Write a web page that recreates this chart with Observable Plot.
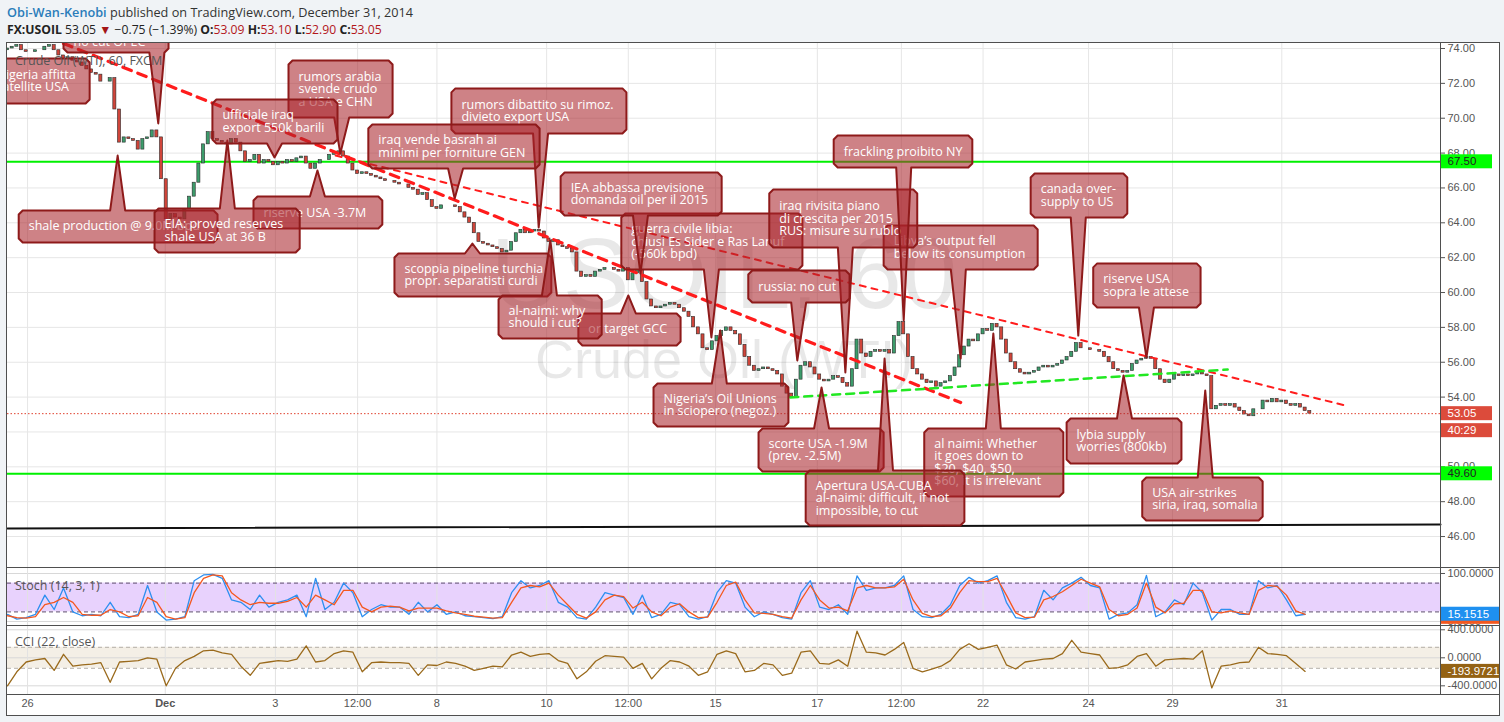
<!DOCTYPE html>
<html><head><meta charset="utf-8">
<script src="https://cdn.jsdelivr.net/npm/d3@7"></script>
<script src="https://cdn.jsdelivr.net/npm/@observablehq/plot@0.6"></script>
<style>
body{margin:0;background:#f0f3f6;width:1504px;height:722px;overflow:hidden;position:relative;font-family:"Open Sans",sans-serif}
.abs{position:absolute}
.pane{position:absolute;overflow:hidden}
.line{position:absolute;background:#4f4f4f}
.lbl{position:absolute;color:#555;font-size:12.5px;font-family:"Open Sans",sans-serif;white-space:nowrap;z-index:5}
</style></head><body>
<div class="abs" style="left:7px;top:3px;font-size:12.7px;color:#333;white-space:nowrap"><span style="color:#2a7cba;font-weight:600">Obi-Wan-Kenobi</span> published on TradingView.com, December 31, 2014</div>
<div class="abs" style="left:7px;top:21px;font-size:12.2px;color:#222;white-space:nowrap"><b>FX:USOIL</b> 53.05 <span style="color:#a31515">▼</span> −0.75 (−1.39%) <b>O:</b><span style="color:#b3161b">53.09</span> <b>H:</b><span style="color:#b3161b">53.10</span> <b>L:</b><span style="color:#b3161b">52.90</span> <b>C:</b><span style="color:#b3161b">53.05</span></div>
<div id="main" class="pane" style="left:6px;top:42px;width:1494px;height:525px"></div>
<div id="stoch" class="pane" style="left:6px;top:567px;width:1494px;height:58px"></div>
<div id="cci" class="pane" style="left:6px;top:625px;width:1494px;height:91px"></div>
<div class="lbl" style="left:15px;top:52px">Crude Oil (WTI), 60, FXCM</div>
<div class="lbl" style="left:15px;top:577px">Stoch (14, 3, 1)</div>
<div class="lbl" style="left:15px;top:633px">CCI (22, close)</div>
<div class="line" style="left:6px;top:42px;width:1494px;height:1px"></div>
<div class="line" style="left:6px;top:567px;width:1494px;height:1px"></div>
<div class="line" style="left:6px;top:625px;width:1494px;height:1px"></div>
<div class="line" style="left:6px;top:694px;width:1494px;height:1px"></div>
<div class="line" style="left:6px;top:715px;width:1494px;height:1px"></div>
<div class="line" style="left:6px;top:42px;width:1px;height:674px"></div>
<div class="line" style="left:1499px;top:42px;width:1px;height:674px"></div>
<div class="line" style="left:1440px;top:42px;width:1px;height:652px"></div>
<script>
// ---------- data ----------
const firstOpen = 73.9;
const closes = [
 74.0, 74.1, 74.2, 73.9, 73.8, 73.8, 73.9, 73.9, 74.1, 74.2,
 73.9, 73.6, 73.4, 73.5, 73.3, 73.2, 73.0, 72.8, 72.6, 72.5,
 72.1, 72.1, 72.3, 70.5, 68.6, 68.9, 68.8, 68.7, 68.2, 68.8,
 68.9, 69.3, 68.9, 66.5, 64.2, 64.5, 64.3, 64.2, 64.8, 65.5,
 66.3, 67.4, 68.5, 69.2, 68.8, 68.7, 68.6, 68.5, 68.8, 68.6,
 68.1, 67.5, 67.6, 67.9, 67.4, 67.6, 67.5, 67.3, 67.5, 67.4,
 67.6, 67.5, 67.7, 67.8, 67.4, 67.1, 67.4, 67.6, 67.6, 67.9,
 68.0, 68.1, 67.8, 67.4, 67.0, 66.8, 66.9, 66.8, 66.7, 66.6,
 66.5, 66.4, 66.4, 66.3, 66.2, 66.2, 66.0, 65.9, 65.6, 65.7,
 65.3, 64.9, 64.8, 65.0, 65.0, 65.0, 64.9, 64.6, 64.3, 64.0,
 63.4, 62.9, 62.8, 62.7, 62.6, 62.5, 62.3, 62.4, 62.9, 63.4,
 63.6, 63.4, 63.5, 63.6, 63.5, 63.1, 62.9, 63.0, 62.7, 62.6,
 62.5, 62.3, 61.2, 60.9, 61.0, 60.9, 61.2, 61.3, 61.4, 61.4,
 61.3, 61.2, 61.4, 60.7, 61.1, 61.3, 60.6, 59.6, 59.2, 59.1,
 59.2, 59.3, 59.4, 59.3, 59.1, 58.9, 58.6, 58.0, 57.6, 56.8,
 56.7, 57.2, 57.5, 57.8, 58.0, 57.8, 57.6, 57.0, 56.3, 55.8,
 55.5, 55.6, 55.7, 55.6, 55.5, 55.3, 54.6, 54.2, 54.0, 55.0,
 55.8, 56.0, 55.7, 55.3, 55.0, 54.9, 55.0, 55.2, 55.1, 54.8,
 54.6, 55.6, 57.3, 56.5, 56.3, 56.6, 56.7, 56.6, 56.7, 56.5,
 57.5, 58.3, 57.6, 56.3, 55.6, 55.3, 55.0, 54.8, 54.9, 54.6,
 54.8, 54.9, 55.2, 55.7, 56.4, 56.9, 57.3, 57.2, 57.6, 57.9,
 57.8, 58.2, 58.0, 57.3, 56.5, 56.0, 55.6, 55.4, 55.3, 55.4,
 55.5, 55.7, 55.8, 55.7, 55.8, 55.9, 56.1, 56.3, 56.6, 57.1,
 56.8, 56.8, 56.7, 56.7, 56.6, 56.3, 56.0, 55.6, 55.5, 55.4,
 55.5, 55.9, 56.1, 56.2, 56.3, 56.2, 55.6, 55.0, 54.8, 55.0,
 55.3, 55.2, 55.3, 55.2, 55.3, 55.4, 55.3, 55.2, 53.3, 53.5,
 53.6, 53.5, 53.6, 53.4, 53.2, 53.0, 52.9, 53.3, 53.3, 53.8,
 53.7, 53.9, 53.7, 53.8, 53.6, 53.5, 53.6, 53.4, 53.2, 53.05];

const stochK = [
 15, 5, 8, 15, 55, 25, 70, 20, 12, 15,
 12, 40, 10, 8, 15, 75, 20, 3, 5, 10,
 85, 97, 98, 90, 45, 40, 25, 55, 30, 40,
 45, 55, 10, 90, 25, 40, 80, 60, 10, 25,
 35, 30, 30, 15, 40, 20, 35, 15, 20, 12,
 10, 8, 6, 10, 60, 85, 70, 75, 85, 40,
 30, 8, 5, 30, 60, 55, 50, 15, 55, 8,
 15, 40, 35, 10, 5, 10, 60, 85, 80, 30,
 10, 20, 15, 8, 5, 60, 85, 30, 25, 35,
 15, 95, 65, 70, 70, 75, 95, 25, 10, 8,
 15, 35, 75, 92, 80, 85, 95, 40, 8, 5,
 10, 65, 45, 70, 80, 92, 75, 70, 5, 15,
 18, 35, 96, 10, 20, 45, 35, 80, 60, 3,
 25, 25, 15, 15, 85, 70, 75, 45, 12, 15.15];
const stochD = [
 12, 8, 7, 10, 35, 40, 50, 40, 15, 13,
 13, 25, 20, 10, 12, 50, 40, 10, 5, 8,
 60, 90, 97, 95, 60, 45, 35, 40, 38, 38,
 42, 50, 30, 55, 45, 35, 65, 65, 30, 20,
 30, 32, 30, 22, 28, 28, 28, 22, 18, 15,
 11, 9, 7, 8, 40, 70, 75, 72, 80, 55,
 35, 15, 7, 20, 45, 55, 52, 28, 40, 20,
 12, 30, 37, 20, 8, 9, 40, 75, 82, 45,
 18, 17, 15, 10, 7, 45, 75, 45, 28, 30,
 22, 70, 75, 70, 70, 72, 88, 45, 17, 10,
 12, 28, 60, 85, 83, 83, 90, 55, 18, 8,
 9, 45, 52, 62, 75, 88, 80, 72, 25, 12,
 15, 28, 80, 30, 18, 37, 38, 65, 65, 20,
 18, 22, 18, 15, 65, 75, 73, 55, 22, 15];
const cci = [
 -400, -200, -60, -30, -10, -180, 50, -120, -100, -90,
 -70, -350, -60, -50, -40, 0, -20, -400, -150, -40,
 20, 100, 110, 70, 50, -120, -250, -80, -60, -40,
 -50, -20, 170, -60, -40, 60, 100, 80, -200, -70,
 -60, -70, -70, -80, -250, -100, -110, -60, -80, -120,
 -180, -150, -120, -130, 40, 80, 20, 50, 60, -40,
 -80, -300, -200, -50, 30, 20, 10, -150, -80, -300,
 -150, -40, -60, -120, -250, -200, 50, 100, 60, -200,
 -180, -80, -100, -250, -220, 80, 100, -80, -90, -30,
 -120, 380, 80, 70, 40, 120, 220, -150, -200, -160,
 -120, -40, 120, 200, 120, 150, 180, -100, -160, -60,
 -40, -20, -10, 60, 250, 80, 60, 40, -150, -140,
 -100, 20, 60, -120, -30, -20, -10, -20, 100, -430,
 -120, -100, -70, -60, 150, 60, 50, 30, -80, -193.9721];
const indicatorStep = 2; // indicator samples every 2 bars

const timeTicks = [4.3, 33.8, 57.4, 75, 92, 115.5, 133, 151.7, 173.5, 191.5, 209, 231.6, 249.6, 273];
const timeLabels = ["26", "Dec", "3", "12:00", "8", "10", "12:00", "15", "17", "12:00", "22", "24", "29", "31"];
const priceTicks = [46, 48, 50, 52, 54, 56, 58, 60, 62, 64, 66, 68, 70, 72, 74];
const stochTicks = [100, 0];
const stochBand = [20, 80];
const cciTicks = [400, 0, -400];
const cciBand = [-150, 150];

const levelLines = [67.5, 49.6];
const lastPrice = 53.05, countdown = "40:29";
const blackLine = [[0, 46.46], [307, 46.69]];
const redTrendA = [[12.0, 74.29], [204.2, 53.69]];
const redTrendB = [[70.3, 67.86], [286.6, 53.52]];
const greenTrend = [[167.7, 53.98], [261.4, 55.58]];
const watermark = ["USOIL, 60", "Crude Oil (WTI)"];

// [text, boxLeft, boxRight, boxTop, boxBottom, pointerBase, tipX, tipY]
const notes = [
 ["shale production @ 9.0M bpd", 2.4, 45.0, 64.71, 62.87, 23.6, 23.6, 67.86],
 ["riserve USA -3.7M", 52.7, 80.3, 65.51, 63.67, 66.4, 66.4, 67.0],
 ["EIA: proved reserves\nshale USA at 36 B", 31.5, 62.6, 64.82, 62.30, 47.1, 47.1, 68.72],
 ["rumors arabia\nsvende crudo\na USA e CHN", 60.2, 82.5, 73.31, 70.04, 71.6, 71.3, 67.98],
 ["ufficiale iraq\nexport 550k barili", 43.9, 70.7, 71.07, 68.55, 57.2, 57.2, 67.75],
 ["no cut OPEC", 12.0, 34.5, 75.03, 73.77, 32.0, 32.3, 69.70],
 ["Nigeria affitta\nsatellite USA", -4.5, 17.6, 73.43, 70.84, null, null, null],
 ["rumors dibattito su rimoz.\ndivieto export USA", 95.1, 132.6, 71.71, 69.12, 114.2, 113.8, 63.73],
 ["iraq vende basrah ai\nminimi per forniture GEN", 77.3, 114.0, 69.64, 67.12, 96.0, 95.8, 65.39],
 ["scoppia pipeline turchia\npropr. separatisti curdi", 82.9, 116.5, 62.24, 59.77, 99.6, 99.6, 62.81],
 ["or target GCC", 122.3, 144.2, 58.80, 56.96, 133.0, 133.0, 59.83],
 ["al-naimi: why\nshould i cut?", 105.2, 127.3, 59.83, 57.36, 116.1, 116.3, 62.98],
 ["guerra civile libia:\nchiusi Es Sider e Ras Lanuf\n(-560k bpd)", 131.5, 170.3, 64.53, 61.32, 150.8, 150.8, 57.42],
 ["IEA abbassa previsione\ndomanda oil per il 2015", 118.5, 153.0, 66.89, 64.42, 135.6, 135.6, 61.09],
 ["Libya’s output fell\nbelow its consumption", 187.7, 220.7, 63.85, 61.32, 203.7, 204.2, 56.22],
 ["iraq rivisita piano\ndi crescita per 2015\nRUS: misure su rublo", 163.2, 194.9, 65.91, 62.58, 179.5, 179.5, 55.41],
 ["russia: no cut", 158.7, 180.4, 61.26, 59.43, 169.5, 169.2, 56.10],
 ["frackling proibito NY", 177.0, 206.7, 69.01, 67.17, 192.0, 192.0, 58.40],
 ["Nigeria’s Oil Unions\nin sciopero (negoz.)", 138.4, 167.3, 54.78, 52.31, 152.5, 152.7, 57.82],
 ["scorte USA -1.9M\n(prev. -2.5M)", 160.9, 187.7, 52.20, 49.73, 174.4, 174.4, 54.55],
 ["al naimi: Whether\nit goes down to\n$20, $40, $50,\n$60, it is irrelevant", 196.4, 226.2, 52.20, 48.30, 211.2, 211.2, 57.65],
 ["Apertura USA-CUBA\nal-naimi: difficult, if not\nimpossible, to cut", 171.0, 205.0, 49.79, 46.63, 188.1, 187.9, 56.21],
 ["canada over-\nsupply to US", 219.2, 239.9, 66.83, 64.30, 229.4, 229.4, 57.53],
 ["riserve USA\nsopra le attese", 232.6, 255.6, 61.67, 59.14, 244.0, 244.0, 56.27],
 ["lybia supply\nworries (800kb)", 226.9, 251.5, 52.77, 50.19, 239.3, 239.1, 55.24],
 ["USA air-strikes\nsiria, iraq, somalia", 243.1, 268.9, 49.39, 46.92, 256.6, 256.6, 54.38]
];

// ---------- layout ----------
const W = 1494, ML = 1, MR = 60;
const xDomain = [0, 307];
const pxPerBar = (W - ML - MR) / (xDomain[1] - xDomain[0]);
const pxPerDollar = 17.43;
const axisStyle = {background: "white", fontFamily: "'Liberation Sans', Arial, sans-serif", fontSize: "11px", color: "#555"};
const upColor = "#3c9c6b", downColor = "#d0453a";

const candles = closes.map((c, i) => ({i, open: i ? closes[i - 1] : firstOpen, close: c}));

// callout polygons
const hw = 7.5 / pxPerBar, cx = 4 / pxPerBar, cy = 4 / pxPerDollar;
function poly(n) {
  const [, x1, x2, top, bot, base, tx, ty] = n;
  const p = [[x1 + cx, top]];
  if (ty != null && ty > top) p.push([base - hw, top], [tx, ty], [base + hw, top]);
  p.push([x2 - cx, top], [x2, top - cy], [x2, bot + cy], [x2 - cx, bot]);
  if (ty != null && ty < bot) p.push([base + hw, bot], [tx, ty], [base - hw, bot]);
  p.push([x1 + cx, bot], [x1, bot + cy], [x1, top - cy]);
  return p;
}
const calloutMarks = notes.flatMap(n => [
  Plot.line(poly(n), {x: d => d[0], y: d => d[1], curve: "linear-closed", fill: "#a8232a", fillOpacity: 0.57, stroke: "#8e1a1a", strokeWidth: 2, strokeLinejoin: "round", clip: true}),
  Plot.text([n], {x: d => d[1], y: d => (d[3] + d[4]) / 2, text: d => d[0], dx: 10, textAnchor: "start", lineAnchor: "middle", lineHeight: 1.0, fill: "white", fontSize: 12.5, fontFamily: "'Open Sans', sans-serif", clip: true})
]);

function axisTag(value, text, bg, fg, shift = 0, wide = 52) {
  return [
    Plot.rect([value], {x1: () => xDomain[1], x2: () => xDomain[1], y1: d => d, y2: d => d, insetRight: -wide, insetTop: -7 + shift, insetBottom: -7 - shift, fill: bg}),
    Plot.text([value], {x: () => xDomain[1], y: d => d, dy: shift, dx: 7, text: () => text, textAnchor: "start", fill: fg, fontSize: 11.5, fontFamily: "'Liberation Sans', Arial, sans-serif"})
  ];
}

const main = Plot.plot({
  width: W, height: 525, marginLeft: ML, marginRight: MR, marginTop: 1, marginBottom: 0,
  style: axisStyle,
  x: {domain: xDomain, axis: null},
  y: {domain: [44.224, 74.287], axis: "right", ticks: priceTicks, tickFormat: d => d.toFixed(2), tickSize: 4, tickPadding: 3, label: null},
  marks: [
    Plot.ruleY(priceTicks, {stroke: "#e6e6e6"}),
    Plot.ruleX(timeTicks, {stroke: "#e6e6e6"}),
    Plot.text([watermark[0]], {frameAnchor: "middle", dy: -30, text: d => d, fontSize: 100, fill: "#000", fillOpacity: 0.09, fontFamily: "'Liberation Sans', Arial, sans-serif"}),
    Plot.text([watermark[1]], {frameAnchor: "middle", dy: 55, text: d => d, fontSize: 54, fill: "#000", fillOpacity: 0.09, fontFamily: "'Liberation Sans', Arial, sans-serif"}),
    Plot.ruleY(levelLines, {stroke: "#00f000", strokeWidth: 2}),
    Plot.line(blackLine, {x: d => d[0], y: d => d[1], stroke: "#111", strokeWidth: 2}),
    Plot.rect(candles, {x1: d => d.i - 0.33, x2: d => d.i + 0.33, y1: "open", y2: "close", fill: d => d.close >= d.open ? upColor : downColor, stroke: "#2a2a2a", strokeWidth: 0.6, clip: true}),
    Plot.line(redTrendA, {x: d => d[0], y: d => d[1], stroke: "#ff1c1c", strokeWidth: 3.2, strokeDasharray: "9,7", clip: true}),
    Plot.line(redTrendB, {x: d => d[0], y: d => d[1], stroke: "#ff1c1c", strokeWidth: 2, strokeDasharray: "6,6", clip: true}),
    Plot.line(greenTrend, {x: d => d[0], y: d => d[1], stroke: "#22e822", strokeWidth: 2.5, strokeDasharray: "8,6", clip: true}),
    Plot.ruleY([lastPrice], {stroke: "#e0402f", strokeDasharray: "1.5,2", strokeWidth: 1}),
    calloutMarks,
    axisTag(levelLines[0], "67.50", "#00ff00", "#222"),
    axisTag(levelLines[1], "49.60", "#00ff00", "#222"),
    axisTag(lastPrice, "53.05", "#dc4b3b", "#fff"),
    axisTag(lastPrice, countdown, "#dc4b3b", "#fff", 17)
  ]
});
document.getElementById("main").append(main);

const stoch = Plot.plot({
  width: W, height: 58, marginLeft: ML, marginRight: MR, marginTop: 1, marginBottom: 0,
  style: axisStyle,
  x: {domain: xDomain, axis: null},
  y: {domain: [-8.3, 110.4], axis: "right", ticks: stochTicks, tickFormat: d => d.toFixed(4), tickSize: 4, tickPadding: 3, label: null},
  marks: [
    Plot.rect([stochBand], {x1: () => xDomain[0], x2: () => xDomain[1], y1: d => d[0], y2: d => d[1], fill: "#e8d2fd"}),
    Plot.ruleY(stochTicks, {stroke: "#d8d8d8"}),
    Plot.ruleX(timeTicks, {stroke: "#e2e2e2"}),
    Plot.ruleY(stochBand, {stroke: "#5d4d6e", strokeDasharray: "4,3"}),
    Plot.line(stochK, {x: (d, j) => j * indicatorStep, y: d => d, stroke: "#2d8ff0", strokeWidth: 1.3}),
    Plot.line(stochD, {x: (d, j) => j * indicatorStep, y: d => d, stroke: "#f4581f", strokeWidth: 1.3}),
    axisTag(stochD[stochD.length - 1], "", "#f4581f", "#fff", 3, 60),
    axisTag(stochK[stochK.length - 1], "15.1515", "#1e90f0", "#fff", 0, 60)
  ]
});
document.getElementById("stoch").append(stoch);

const tickLabelMap = new Map(timeTicks.map((t, k) => [t, timeLabels[k]]));
const cciPlot = Plot.plot({
  width: W, height: 91, marginLeft: ML, marginRight: MR, marginTop: 1, marginBottom: 22,
  style: axisStyle,
  x: {domain: xDomain, axis: "bottom", ticks: timeTicks, tickFormat: d => tickLabelMap.get(d), tickSize: 0, tickPadding: 5, label: null},
  y: {domain: [-524, 447], axis: "right", ticks: cciTicks, tickFormat: d => d.toFixed(4), tickSize: 4, tickPadding: 3, label: null},
  marks: [
    Plot.rect([cciBand], {x1: () => xDomain[0], x2: () => xDomain[1], y1: d => d[0], y2: d => d[1], fill: "#f4efe6"}),
    Plot.ruleY(cciTicks, {stroke: "#d8d8d8"}),
    Plot.ruleX(timeTicks, {stroke: "#e2e2e2"}),
    Plot.ruleY(cciBand, {stroke: "#b5b0a8", strokeDasharray: "4,3"}),
    Plot.line(cci, {x: (d, j) => j * indicatorStep, y: d => d, stroke: "#9a6a1c", strokeWidth: 1.3}),
    axisTag(cci[cci.length - 1], "-193.9721", "#946214", "#fff", 0, 70)
  ]
});
cciPlot.querySelectorAll("text").forEach(t => { if (t.textContent === "Dec") t.setAttribute("font-weight", "bold"); });
document.getElementById("cci").append(cciPlot);
</script>
</body></html>
